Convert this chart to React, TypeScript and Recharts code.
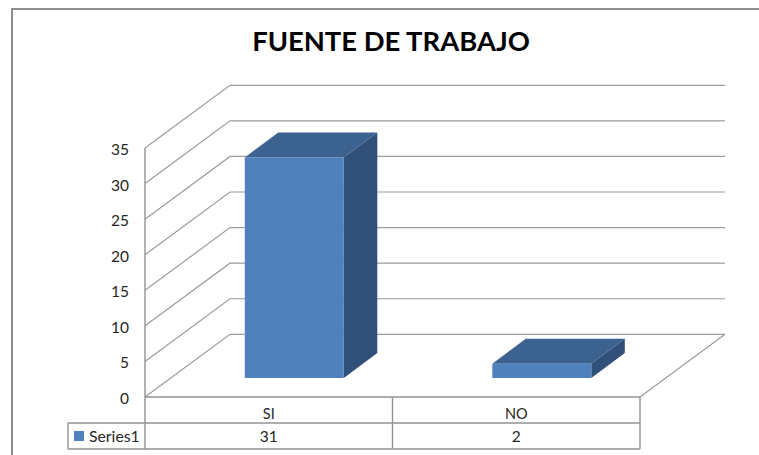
import { BarChart, Bar, XAxis, YAxis, CartesianGrid, Legend } from 'recharts';

const categories = ['SI', 'NO'];
const seriesName = 'Series1';
const seriesValues = [31, 2];
const yTicks = [0, 5, 10, 15, 20, 25, 30, 35];
const title = 'FUENTE DE TRABAJO';

const data = categories.map((name, i) => ({ name, value: seriesValues[i] }));

const W = 759;
const H = 455;
const FONT = 'Lato, "Open Sans", sans-serif';
const LINE = '#9c9c9c';
const TABLE = '#929292';
const TEXT = '#262626';

// plot area = front plane of the 3d box
const margin = { top: 148, right: 119, left: 85, bottom: 0 };
const plotLeft = 145;
const plotRight = W - margin.right;
const plotBottom = 397;
const cellW = (plotRight - plotLeft) / categories.length;
const rowMid = 423;
const rowEnd = 449;
const legendLeft = 68;

// depth of the floor and of the bars
const depthX = 85;
const depthY = 62.7;
const barShiftX = 25.8;
const barShiftY = 19;
const barDepthX = 33.5;
const barDepthY = 25;

function Bar3D({ x, y, width, height }: any) {
  const fx = x + barShiftX;
  const fy = y - barShiftY;
  const r = fx + width;
  const b = fy + height;
  return (
    <g>
      <polygon
        points={`${r},${fy} ${r + barDepthX},${fy - barDepthY} ${r + barDepthX},${b - barDepthY} ${r},${b}`}
        fill="#305079"
      />
      <polygon
        points={`${fx},${fy} ${fx + barDepthX},${fy - barDepthY} ${r + barDepthX},${fy - barDepthY} ${r},${fy}`}
        fill="#3c628f"
      />
      <rect x={fx} y={fy} width={width} height={height} fill="#4f81bd" />
    </g>
  );
}

// each horizontal gridline runs along the left wall and then the back wall
function gridLine(props: any) {
  const { x1, y1, x2 } = props;
  const backY = y1 - depthY;
  const isFloor = Math.abs(y1 - plotBottom) < 1;
  return (
    <g key={props.key ?? y1}>
      <polyline
        points={`${x1},${y1} ${x1 + depthX},${backY} ${x2 + depthX},${backY}`}
        fill="none"
        stroke={LINE}
        strokeWidth={1.2}
      />
      {isFloor && <line x1={x2} y1={y1} x2={x2 + depthX} y2={backY} stroke={LINE} strokeWidth={1.2} />}
    </g>
  );
}

// x labels with the data table below them
function TableTick({ x, payload }: any) {
  const right = x + cellW / 2;
  const left = x - cellW / 2;
  const i = payload.index;
  return (
    <g>
      <line x1={right} y1={plotBottom} x2={right} y2={rowEnd} stroke={TABLE} strokeWidth={1.4} />
      <line x1={left} y1={plotBottom} x2={right} y2={plotBottom} stroke={TABLE} strokeWidth={1.4} />
      <line x1={left} y1={rowMid} x2={right} y2={rowMid} stroke={TABLE} strokeWidth={1.4} />
      <line x1={left} y1={rowEnd} x2={right} y2={rowEnd} stroke={TABLE} strokeWidth={1.4} />
      {i === 0 && (
        <g>
          <line x1={left} y1={plotBottom} x2={left} y2={rowEnd} stroke={TABLE} strokeWidth={1.4} />
          <line x1={legendLeft} y1={rowMid} x2={left} y2={rowMid} stroke={TABLE} strokeWidth={1.4} />
          <line x1={legendLeft} y1={rowEnd} x2={left} y2={rowEnd} stroke={TABLE} strokeWidth={1.4} />
          <line x1={legendLeft} y1={rowMid} x2={legendLeft} y2={rowEnd} stroke={TABLE} strokeWidth={1.4} />
        </g>
      )}
      <text x={x} y={418.5} textAnchor="middle" fontFamily={FONT} fontSize={14.5} fill={TEXT}>
        {payload.value}
      </text>
      <text x={x} y={441.5} textAnchor="middle" fontFamily={FONT} fontSize={15.5} fill={TEXT}>
        {seriesValues[i]}
      </text>
    </g>
  );
}

function LegendCell() {
  return (
    <div style={{ display: 'flex', alignItems: 'center', fontFamily: FONT, fontSize: 15.8, color: TEXT, lineHeight: '18px' }}>
      <span style={{ width: 10, height: 10, background: '#4f81bd', marginRight: 5 }} />
      {seriesName}
    </div>
  );
}

export default function App() {
  return (
    <div style={{ position: 'absolute', left: 0, top: 0, width: W, height: H, overflow: 'hidden', background: '#fff' }}>
      <div
        style={{
          position: 'absolute',
          left: 11,
          top: 8,
          width: W + 40,
          height: H + 40,
          border: '2px solid #8f8f8f',
        }}
      />
      <div
        style={{
          position: 'absolute',
          left: 0,
          top: 21,
          width: 782,
          textAlign: 'center',
          fontFamily: FONT,
          fontWeight: 700,
          fontSize: 27.4,
          lineHeight: '40px',
          color: '#000',
        }}
      >
        {title}
      </div>
      <div style={{ position: 'absolute', left: 0, top: 0 }}>
        <BarChart width={W} height={H} data={data} margin={margin} barSize={99}>
          <CartesianGrid vertical={false} horizontal={gridLine} />
          <XAxis
            dataKey="name"
            height={58}
            interval={0}
            axisLine={false}
            tickLine={false}
            tick={<TableTick />}
          />
          <YAxis
            width={60}
            domain={[0, 35]}
            ticks={yTicks}
            interval={0}
            axisLine={{ stroke: TABLE, strokeWidth: 1.4 }}
            tickLine={false}
            tickMargin={10}
            tick={{ fill: TEXT, fontSize: 15.5, fontFamily: FONT, dy: 1.5 }}
          />
          <Legend
            layout="horizontal"
            align="center"
            verticalAlign="middle"
            content={<LegendCell />}
            wrapperStyle={{ left: 74, top: 427, width: 70, height: 18 }}
          />
          <Bar dataKey="value" name={seriesName} fill="#4f81bd" shape={<Bar3D />} isAnimationActive={false} />
        </BarChart>
      </div>
    </div>
  );
}
